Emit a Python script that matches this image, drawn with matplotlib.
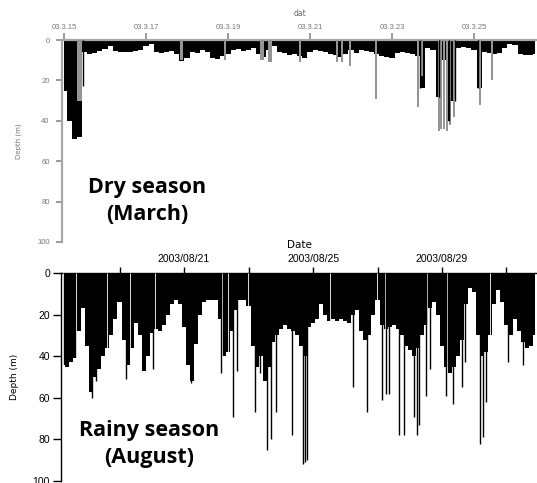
import matplotlib
matplotlib.use("Agg")
import matplotlib.pyplot as plt
import numpy as np

# ---------------- Data: dry season (March 2003), hours since 2003-03-15 00:00
dry_env_t = list(range(0, 279, 3))
dry_env_d = [25, 40, 49, 48, 6, 7, 6.5, 5.5, 4.5, 3, 5.5, 6, 6, 6, 5.5, 5, 3, 2, 6, 6.5,
             6, 5.5, 7, 10.5, 9, 6, 6.5, 5, 6, 9, 9.5, 8, 7, 5, 4.5, 5.5, 5, 4, 7, 8.5,
             5, 3, 6, 6.5, 7.5, 7, 8, 9, 6, 5, 5.5, 6, 7, 7.5, 8.5, 7, 5, 6.5, 5, 5.5,
             6, 7, 8, 8.5, 9, 6.5, 6, 6.5, 7, 8, 24, 4, 5, 28, 10, 40, 30, 4, 3.5, 4,
             5, 24, 6, 6.5, 7, 6.5, 4, 2, 2.5, 7, 7.5, 7.5, 7]
dry_gray_t = [9.1, 68.8, 94.2, 115.9, 120.6, 138.2, 159.8, 162.7, 167.4, 182.6, 207.2,
              209.6, 219.5, 220.7, 222.5, 224.2, 226.0, 228.3, 243.5, 250.5]
dry_gray_d = [30, 10, 10, 10, 11, 11, 11, 11, 13, 29, 33, 18, 45, 44, 44, 45, 42, 38, 32, 20]
dry_gray_w = [3, 1.5, 1, 2, 2, 1, 1, 1, 1, 1, 1, 1, 1, 1, 1, 1, 1, 1, 1.5, 1]
dry_spike_t = [11.1, 208.6, 219.5, 225.4, 228.9, 242.3]
dry_spike_d = [23, 24, 28, 40, 30, 24]
dry_tick_days = [0, 2, 4, 6, 8, 10]
dry_tick_labels = ["03.3.15", "03.3.17", "03.3.19", "03.3.21", "03.3.23", "03.3.25"]

# ---------------- Data: rainy season (August 2003), hours since 2003-08-17 00:00
wet_env_t = list(range(6, 360, 3))
wet_env_d = [44, 45, 43, 41, 28, 17, 35, 57, 50, 46, 40, 36, 30, 22, 14, 32, 44, 36, 24, 30,
             47, 40, 29, 27, 28, 25, 20, 15, 13, 15, 26, 44, 52, 34, 20, 14, 13, 13, 13, 22,
             40, 38, 28, 18, 13, 13, 16, 35, 45, 40, 52, 45, 33, 30, 27, 25, 27, 28, 30, 35,
             40, 26, 24, 22, 15, 20, 23, 22, 23, 22, 23, 24, 20, 18, 28, 32, 30, 20, 13, 25,
             27, 26, 25, 27, 30, 35, 37, 40, 36, 30, 25, 17, 14, 20, 35, 45, 48, 45, 40, 32,
             15, 7, 9, 30, 40, 38, 30, 15, 8, 14, 25, 30, 22, 28, 33, 36, 35, 30]
wet_spike_t = [27.5, 30.5, 52.8, 72.9, 101.2, 123.5, 132.5, 135.4, 148.8, 152.6, 157.8,
               160.7, 164.5, 176.4, 184.6, 186.1, 187.5, 221.8, 232.2, 243.4, 246.3, 248.6,
               256.0, 259.7, 267.2, 269.4, 270.9, 276.1, 279.1, 291.0, 296.2, 302.9, 305.1,
               316.3, 318.5, 320.7, 337.1, 348.3]
wet_spike_d = [60, 52, 51, 46, 53, 48, 69, 47, 67, 48, 85, 80, 67, 78, 92, 91, 90, 55, 67,
               61, 58, 58, 78, 78, 69, 78, 73, 59, 46, 59, 63, 55, 43, 82, 79, 62, 43, 44]
wet_gap_t = [6.0, 15.6, 38.7, 55.8, 74.4, 124.3, 128.7, 143.6, 204.7, 239.6, 245.6,
             276.8, 291.7, 323.7]
wet_tick_days = [2, 4, 6, 8, 10, 12, 14]
wet_tick_labels = ["", "2003/08/21", "", "2003/08/25", "", "2003/08/29", ""]

depth_ticks = [0, 20, 40, 60, 80, 100]

W, H = 537, 483
fig = plt.figure(figsize=(W / 100, H / 100), dpi=100)

def fr(x0, y0, x1, y1):
    return [x0 / W, 1 - y1 / H, (x1 - x0) / W, (y1 - y0) / H]

# ---------------- top panel
gcol = "#959595"
ax1 = fig.add_axes(fr(62, 40, 537, 242))
ax1.fill_between(dry_env_t, 0, dry_env_d, step="mid", color="black", lw=0, zorder=2)
ax1.bar(dry_gray_t, dry_gray_d, width=dry_gray_w, color=gcol, lw=0, zorder=3)
ax1.vlines(dry_spike_t, 0, dry_spike_d, color="black", lw=1.0, zorder=4)
ax1.set_xlim(-1.2, 276.9)
ax1.set_ylim(100, 0)
for s in ["right", "bottom"]:
    ax1.spines[s].set_visible(False)
for s in ["left", "top"]:
    ax1.spines[s].set_color("#a8a8a8")
    ax1.spines[s].set_linewidth(1.6)
ax1.xaxis.tick_top()
ax1.set_xticks([d * 24 for d in dry_tick_days])
ax1.set_xticklabels(dry_tick_labels)
ax1.set_yticks(depth_ticks)
ax1.tick_params(axis="x", direction="out", length=5, width=1.2, color="#8a8a8a",
                labelsize=5.5, labelcolor="#777777", pad=1.5)
ax1.tick_params(axis="y", direction="out", length=4, width=1.2, color="#8a8a8a",
                labelsize=5.5, labelcolor="#777777", pad=5)
ax1.set_ylabel("Depth (m)", fontsize=5, color="#777777", labelpad=11)
ax1.xaxis.set_label_position("top")
ax1.set_xlabel("dat", fontsize=5.5, color="#666666", labelpad=6)
ax1.text(0.18, 0.203, "Dry season\n(March)", transform=ax1.transAxes, ha="center",
         va="center", fontsize=15.5, fontweight="bold", family="Open Sans", linespacing=1.32)

# ---------------- bottom panel
ax2 = fig.add_axes(fr(61, 273, 537, 481))
ax2.fill_between(wet_env_t, 0, wet_env_d, step="mid", color="black", lw=0, zorder=2)
ax2.vlines(wet_gap_t, 0, 100, color="white", lw=0.6, zorder=3)
ax2.vlines(wet_spike_t, 0, wet_spike_d, color="black", lw=1.0, zorder=4)
ax2.set_xlim(4.46, 358.7)
ax2.set_ylim(100, 0)
for s in ["right", "bottom"]:
    ax2.spines[s].set_visible(False)
for s in ["left", "top"]:
    ax2.spines[s].set_linewidth(1.0)
ax2.xaxis.tick_top()
ax2.set_xticks([d * 24 for d in wet_tick_days])
ax2.set_xticklabels(wet_tick_labels)
ax2.set_yticks(depth_ticks)
ax2.tick_params(axis="x", direction="out", length=4.5, width=1.0, labelsize=7.5, pad=2)
ax2.tick_params(axis="y", direction="out", length=5.5, width=1.0, labelsize=7.5, pad=2.5)
ax2.xaxis.set_label_position("top")
ax2.set_xlabel("Date", fontsize=7.5, labelpad=4)
ax2.set_ylabel("Depth (m)", fontsize=6.5, labelpad=10)
ax2.text(0.185, 0.178, "Rainy season\n(August)", transform=ax2.transAxes, ha="center",
         va="center", fontsize=15.5, fontweight="bold", family="Open Sans", linespacing=1.32)
for lab in ax1.get_xticklabels() + ax1.get_yticklabels() + ax2.get_xticklabels() + ax2.get_yticklabels():
    lab.set_family("Liberation Sans")

fig.savefig("out.png", dpi=100)
